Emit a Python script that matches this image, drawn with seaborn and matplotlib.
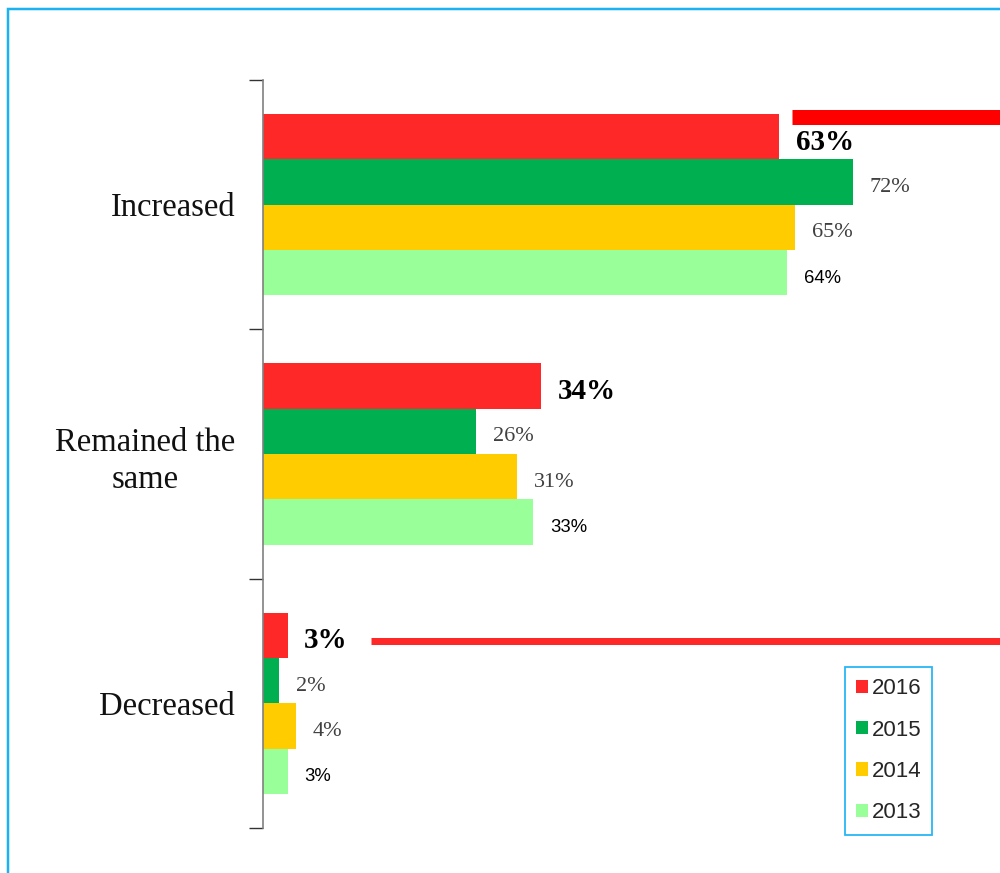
import matplotlib
matplotlib.use("Agg")
import matplotlib.pyplot as plt
import seaborn as sns
import pandas as pd
from matplotlib.lines import Line2D
from matplotlib.patches import Rectangle, Patch

categories = ["Increased", "Remained the\nsame", "Decreased"]
years = ["2016", "2015", "2014", "2013"]
v2016 = [63, 34, 3]
v2015 = [72, 26, 2]
v2014 = [65, 31, 4]
v2013 = [64, 33, 3]
colors = ["#FF2828", "#00B050", "#FFCC00", "#99FF99"]

rows = []
for yr, vals in zip(years, [v2016, v2015, v2014, v2013]):
    for c, v in zip(categories, vals):
        rows.append({"category": c, "year": yr, "value": v})
df = pd.DataFrame(rows)

sns.set_style("white")
plt.rcParams["font.family"] = ["Liberation Serif", "DejaVu Serif"]

W, H = 1000, 873
fig = plt.figure(figsize=(W / 100, H / 100), dpi=100)
ax = fig.add_axes([263 / W, 1 - 828 / H, (W - 263) / W, (828 - 80) / H])

sns.barplot(data=df, y="category", x="value", hue="year", order=categories,
            hue_order=years, palette=colors, orient="h", width=0.727,
            linewidth=0, saturation=1, ax=ax, legend=False, errorbar=None)

ax.set_xlim(0, 90)
ax.set_ylim(2.5, -0.5)
ax.set_xlabel("")
ax.set_ylabel("")
ax.set_xticks([])
for s in ["top", "right", "bottom"]:
    ax.spines[s].set_visible(False)
ax.spines["left"].set_color("#808080")
ax.spines["left"].set_linewidth(1.2)

ax.set_yticks(range(len(categories)))
ax.set_yticklabels(categories, fontsize=23.5, color="#111111",
                   family=["Liberation Serif", "DejaVu Serif"])
for lab in ax.get_yticklabels():
    lab.set_multialignment("center")
    lab.set_linespacing(1.3)
ax.tick_params(axis="y", which="major", length=0, pad=20)
ax.set_yticks([-0.5, 0.5, 1.5, 2.5], minor=True)
ax.tick_params(axis="y", which="minor", left=True, length=10, width=1,
               color="#333333", direction="out")

label_styles = [
    dict(fontsize=21, fontweight="bold", color="black", family=["Liberation Serif", "DejaVu Serif"]),
    dict(fontsize=16, color="#404040", family=["Liberation Serif", "DejaVu Serif"]),
    dict(fontsize=16, color="#404040", family=["Liberation Serif", "DejaVu Serif"]),
    dict(fontsize=13.3, color="black", family=["Liberation Sans", "DejaVu Sans"]),
]
for cont, st in zip(ax.containers, label_styles):
    for bar, v in zip(cont.patches, cont.datavalues):
        ax.annotate(f"{v:.0f}%", xy=(bar.get_width(), bar.get_y() + bar.get_height() / 2),
                    xytext=(12, -4), textcoords="offset points",
                    ha="left", va="center", **st)

# callout lines
fig.add_artist(Line2D([792 / W, 1.0], [1 - 116.5 / H] * 2, transform=fig.transFigure,
                      color="#FF0000", lw=15 * 0.72, solid_capstyle="butt"))
fig.add_artist(Line2D([371 / W, 1.0], [1 - 640.5 / H] * 2, transform=fig.transFigure,
                      color="#FF2828", lw=7 * 0.72, solid_capstyle="butt"))

# legend
handles = [Patch(facecolor=c, edgecolor="none") for c in colors]
leg = fig.legend(handles, years, loc="upper left",
                 bbox_to_anchor=(845 / W, 1 - 667 / H), bbox_transform=fig.transFigure,
                 borderaxespad=0, frameon=True, fancybox=False,
                 prop={"family": ["Liberation Sans", "DejaVu Sans"], "size": 16},
                 handlelength=0.55, handleheight=0.55, handletextpad=0.15,
                 labelspacing=0.92, borderpad=0.5)
leg.get_frame().set_edgecolor("#29B6F6")
leg.get_frame().set_linewidth(1.3)
leg.get_frame().set_alpha(1)

# figure border
fig.add_artist(Rectangle((8 / W, -0.1), 1.2, 1 - 9 / H + 0.1, transform=fig.transFigure,
                         fill=False, edgecolor="#1AB2F0", lw=2.5 * 0.72))

fig.savefig("out.png", dpi=100)
